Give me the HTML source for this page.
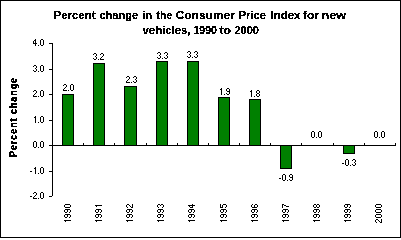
<!DOCTYPE html>
<html><head><meta charset="utf-8"><style>
html,body{margin:0;padding:0;background:#fff;}
svg{display:block;}
.ti{filter:url(#th);font-family:"Liberation Sans",sans-serif;font-size:11px;font-weight:bold;fill:#000;}
</style></head><body>
<svg width="401" height="238" viewBox="0 0 401 238" shape-rendering="crispEdges">
<defs><filter id="th" x="-0.1" y="-0.5" width="1.2" height="2" color-interpolation-filters="sRGB"><feComponentTransfer><feFuncA type="discrete" tableValues="0 1 1 1"/></feComponentTransfer></filter><filter id="th2" x="-0.1" y="-0.5" width="1.2" height="2"><feComponentTransfer><feFuncA type="discrete" tableValues="0 1 1"/></feComponentTransfer></filter></defs>
<rect x="0.5" y="0.5" width="400" height="237" fill="#fff" stroke="#000"/>
<rect x="52" y="43" width="1" height="153" fill="#000"/>
<rect x="49" y="196" width="3" height="1" fill="#000"/>
<rect x="49" y="171" width="4" height="1" fill="#000"/>
<rect x="49" y="145" width="4" height="1" fill="#000"/>
<rect x="49" y="120" width="4" height="1" fill="#000"/>
<rect x="49" y="94" width="4" height="1" fill="#000"/>
<rect x="49" y="69" width="4" height="1" fill="#000"/>
<rect x="49" y="43" width="4" height="1" fill="#000"/>
<rect x="62.5" y="94.5" width="11" height="51" fill="#008000" stroke="#000"/>
<rect x="93.5" y="63.5" width="11" height="82" fill="#008000" stroke="#000"/>
<rect x="124.5" y="86.5" width="12" height="59" fill="#008000" stroke="#000"/>
<rect x="156.5" y="61.5" width="11" height="84" fill="#008000" stroke="#000"/>
<rect x="187.5" y="61.5" width="11" height="84" fill="#008000" stroke="#000"/>
<rect x="218.5" y="97.5" width="11" height="48" fill="#008000" stroke="#000"/>
<rect x="249.5" y="99.5" width="11" height="46" fill="#008000" stroke="#000"/>
<rect x="280.5" y="145.5" width="11" height="23" fill="#008000" stroke="#000"/>
<rect x="343.5" y="145.5" width="11" height="8" fill="#008000" stroke="#000"/>
<rect x="52" y="145" width="344" height="1" fill="#000"/>
<rect x="52" y="143" width="1" height="2" fill="#000"/>
<rect x="83" y="143" width="1" height="2" fill="#000"/>
<rect x="114" y="143" width="1" height="2" fill="#000"/>
<rect x="146" y="143" width="1" height="2" fill="#000"/>
<rect x="177" y="143" width="1" height="2" fill="#000"/>
<rect x="208" y="143" width="1" height="2" fill="#000"/>
<rect x="239" y="143" width="1" height="2" fill="#000"/>
<rect x="270" y="143" width="1" height="2" fill="#000"/>
<rect x="301" y="143" width="1" height="2" fill="#000"/>
<rect x="333" y="143" width="1" height="2" fill="#000"/>
<rect x="364" y="143" width="1" height="2" fill="#000"/>
<rect x="395" y="143" width="1" height="2" fill="#000"/>
<path fill="#000" d="M30 196h1v1h-1zM31 196h1v1h-1zM34 192h1v1h-1zM35 192h1v1h-1zM33 193h1v1h-1zM36 193h1v1h-1zM36 194h1v1h-1zM35 195h1v1h-1zM34 196h1v1h-1zM33 197h1v1h-1zM33 198h1v1h-1zM34 198h1v1h-1zM35 198h1v1h-1zM36 198h1v1h-1zM38 198h1v1h-1zM41 192h1v1h-1zM42 192h1v1h-1zM40 193h1v1h-1zM43 193h1v1h-1zM40 194h1v1h-1zM43 194h1v1h-1zM40 195h1v1h-1zM43 195h1v1h-1zM40 196h1v1h-1zM43 196h1v1h-1zM40 197h1v1h-1zM43 197h1v1h-1zM41 198h1v1h-1zM42 198h1v1h-1zM30 171h1v1h-1zM31 171h1v1h-1zM35 167h1v1h-1zM34 168h1v1h-1zM35 168h1v1h-1zM35 169h1v1h-1zM35 170h1v1h-1zM35 171h1v1h-1zM35 172h1v1h-1zM35 173h1v1h-1zM38 173h1v1h-1zM41 167h1v1h-1zM42 167h1v1h-1zM40 168h1v1h-1zM43 168h1v1h-1zM40 169h1v1h-1zM43 169h1v1h-1zM40 170h1v1h-1zM43 170h1v1h-1zM40 171h1v1h-1zM43 171h1v1h-1zM40 172h1v1h-1zM43 172h1v1h-1zM41 173h1v1h-1zM42 173h1v1h-1zM34 141h1v1h-1zM35 141h1v1h-1zM33 142h1v1h-1zM36 142h1v1h-1zM33 143h1v1h-1zM36 143h1v1h-1zM33 144h1v1h-1zM36 144h1v1h-1zM33 145h1v1h-1zM36 145h1v1h-1zM33 146h1v1h-1zM36 146h1v1h-1zM34 147h1v1h-1zM35 147h1v1h-1zM38 147h1v1h-1zM41 141h1v1h-1zM42 141h1v1h-1zM40 142h1v1h-1zM43 142h1v1h-1zM40 143h1v1h-1zM43 143h1v1h-1zM40 144h1v1h-1zM43 144h1v1h-1zM40 145h1v1h-1zM43 145h1v1h-1zM40 146h1v1h-1zM43 146h1v1h-1zM41 147h1v1h-1zM42 147h1v1h-1zM35 116h1v1h-1zM34 117h1v1h-1zM35 117h1v1h-1zM35 118h1v1h-1zM35 119h1v1h-1zM35 120h1v1h-1zM35 121h1v1h-1zM35 122h1v1h-1zM38 122h1v1h-1zM41 116h1v1h-1zM42 116h1v1h-1zM40 117h1v1h-1zM43 117h1v1h-1zM40 118h1v1h-1zM43 118h1v1h-1zM40 119h1v1h-1zM43 119h1v1h-1zM40 120h1v1h-1zM43 120h1v1h-1zM40 121h1v1h-1zM43 121h1v1h-1zM41 122h1v1h-1zM42 122h1v1h-1zM34 90h1v1h-1zM35 90h1v1h-1zM33 91h1v1h-1zM36 91h1v1h-1zM36 92h1v1h-1zM35 93h1v1h-1zM34 94h1v1h-1zM33 95h1v1h-1zM33 96h1v1h-1zM34 96h1v1h-1zM35 96h1v1h-1zM36 96h1v1h-1zM38 96h1v1h-1zM41 90h1v1h-1zM42 90h1v1h-1zM40 91h1v1h-1zM43 91h1v1h-1zM40 92h1v1h-1zM43 92h1v1h-1zM40 93h1v1h-1zM43 93h1v1h-1zM40 94h1v1h-1zM43 94h1v1h-1zM40 95h1v1h-1zM43 95h1v1h-1zM41 96h1v1h-1zM42 96h1v1h-1zM34 65h1v1h-1zM35 65h1v1h-1zM33 66h1v1h-1zM36 66h1v1h-1zM36 67h1v1h-1zM35 68h1v1h-1zM36 69h1v1h-1zM33 70h1v1h-1zM36 70h1v1h-1zM34 71h1v1h-1zM35 71h1v1h-1zM38 71h1v1h-1zM41 65h1v1h-1zM42 65h1v1h-1zM40 66h1v1h-1zM43 66h1v1h-1zM40 67h1v1h-1zM43 67h1v1h-1zM40 68h1v1h-1zM43 68h1v1h-1zM40 69h1v1h-1zM43 69h1v1h-1zM40 70h1v1h-1zM43 70h1v1h-1zM41 71h1v1h-1zM42 71h1v1h-1zM35 39h1v1h-1zM34 40h1v1h-1zM35 40h1v1h-1zM33 41h1v1h-1zM35 41h1v1h-1zM33 42h1v1h-1zM35 42h1v1h-1zM33 43h1v1h-1zM34 43h1v1h-1zM35 43h1v1h-1zM36 43h1v1h-1zM35 44h1v1h-1zM35 45h1v1h-1zM38 45h1v1h-1zM41 39h1v1h-1zM42 39h1v1h-1zM40 40h1v1h-1zM43 40h1v1h-1zM40 41h1v1h-1zM43 41h1v1h-1zM40 42h1v1h-1zM43 42h1v1h-1zM40 43h1v1h-1zM43 43h1v1h-1zM40 44h1v1h-1zM43 44h1v1h-1zM41 45h1v1h-1zM42 45h1v1h-1zM64 84h1v1h-1zM65 84h1v1h-1zM63 85h1v1h-1zM66 85h1v1h-1zM66 86h1v1h-1zM65 87h1v1h-1zM64 88h1v1h-1zM63 89h1v1h-1zM63 90h1v1h-1zM64 90h1v1h-1zM65 90h1v1h-1zM66 90h1v1h-1zM68 90h1v1h-1zM71 84h1v1h-1zM72 84h1v1h-1zM70 85h1v1h-1zM73 85h1v1h-1zM70 86h1v1h-1zM73 86h1v1h-1zM70 87h1v1h-1zM73 87h1v1h-1zM70 88h1v1h-1zM73 88h1v1h-1zM70 89h1v1h-1zM73 89h1v1h-1zM71 90h1v1h-1zM72 90h1v1h-1zM64 220h1v1h-1zM65 221h1v1h-1zM65 220h1v1h-1zM66 220h1v1h-1zM67 220h1v1h-1zM68 220h1v1h-1zM69 220h1v1h-1zM70 220h1v1h-1zM64 216h1v1h-1zM64 215h1v1h-1zM65 217h1v1h-1zM65 214h1v1h-1zM66 217h1v1h-1zM66 214h1v1h-1zM67 216h1v1h-1zM67 215h1v1h-1zM67 214h1v1h-1zM68 214h1v1h-1zM69 217h1v1h-1zM69 214h1v1h-1zM70 216h1v1h-1zM70 215h1v1h-1zM64 211h1v1h-1zM64 210h1v1h-1zM65 212h1v1h-1zM65 209h1v1h-1zM66 212h1v1h-1zM66 209h1v1h-1zM67 211h1v1h-1zM67 210h1v1h-1zM67 209h1v1h-1zM68 209h1v1h-1zM69 212h1v1h-1zM69 209h1v1h-1zM70 211h1v1h-1zM70 210h1v1h-1zM64 206h1v1h-1zM64 205h1v1h-1zM65 207h1v1h-1zM65 204h1v1h-1zM66 207h1v1h-1zM66 204h1v1h-1zM67 207h1v1h-1zM67 204h1v1h-1zM68 207h1v1h-1zM68 204h1v1h-1zM69 207h1v1h-1zM69 204h1v1h-1zM70 206h1v1h-1zM70 205h1v1h-1zM94 53h1v1h-1zM95 53h1v1h-1zM93 54h1v1h-1zM96 54h1v1h-1zM96 55h1v1h-1zM95 56h1v1h-1zM96 57h1v1h-1zM93 58h1v1h-1zM96 58h1v1h-1zM94 59h1v1h-1zM95 59h1v1h-1zM98 59h1v1h-1zM101 53h1v1h-1zM102 53h1v1h-1zM100 54h1v1h-1zM103 54h1v1h-1zM103 55h1v1h-1zM102 56h1v1h-1zM101 57h1v1h-1zM100 58h1v1h-1zM100 59h1v1h-1zM101 59h1v1h-1zM102 59h1v1h-1zM103 59h1v1h-1zM95 220h1v1h-1zM96 221h1v1h-1zM96 220h1v1h-1zM97 220h1v1h-1zM98 220h1v1h-1zM99 220h1v1h-1zM100 220h1v1h-1zM101 220h1v1h-1zM95 216h1v1h-1zM95 215h1v1h-1zM96 217h1v1h-1zM96 214h1v1h-1zM97 217h1v1h-1zM97 214h1v1h-1zM98 216h1v1h-1zM98 215h1v1h-1zM98 214h1v1h-1zM99 214h1v1h-1zM100 217h1v1h-1zM100 214h1v1h-1zM101 216h1v1h-1zM101 215h1v1h-1zM95 211h1v1h-1zM95 210h1v1h-1zM96 212h1v1h-1zM96 209h1v1h-1zM97 212h1v1h-1zM97 209h1v1h-1zM98 211h1v1h-1zM98 210h1v1h-1zM98 209h1v1h-1zM99 209h1v1h-1zM100 212h1v1h-1zM100 209h1v1h-1zM101 211h1v1h-1zM101 210h1v1h-1zM95 205h1v1h-1zM96 206h1v1h-1zM96 205h1v1h-1zM97 205h1v1h-1zM98 205h1v1h-1zM99 205h1v1h-1zM100 205h1v1h-1zM101 205h1v1h-1zM127 76h1v1h-1zM128 76h1v1h-1zM126 77h1v1h-1zM129 77h1v1h-1zM129 78h1v1h-1zM128 79h1v1h-1zM127 80h1v1h-1zM126 81h1v1h-1zM126 82h1v1h-1zM127 82h1v1h-1zM128 82h1v1h-1zM129 82h1v1h-1zM131 82h1v1h-1zM134 76h1v1h-1zM135 76h1v1h-1zM133 77h1v1h-1zM136 77h1v1h-1zM136 78h1v1h-1zM135 79h1v1h-1zM136 80h1v1h-1zM133 81h1v1h-1zM136 81h1v1h-1zM134 82h1v1h-1zM135 82h1v1h-1zM126 220h1v1h-1zM127 221h1v1h-1zM127 220h1v1h-1zM128 220h1v1h-1zM129 220h1v1h-1zM130 220h1v1h-1zM131 220h1v1h-1zM132 220h1v1h-1zM126 216h1v1h-1zM126 215h1v1h-1zM127 217h1v1h-1zM127 214h1v1h-1zM128 217h1v1h-1zM128 214h1v1h-1zM129 216h1v1h-1zM129 215h1v1h-1zM129 214h1v1h-1zM130 214h1v1h-1zM131 217h1v1h-1zM131 214h1v1h-1zM132 216h1v1h-1zM132 215h1v1h-1zM126 211h1v1h-1zM126 210h1v1h-1zM127 212h1v1h-1zM127 209h1v1h-1zM128 212h1v1h-1zM128 209h1v1h-1zM129 211h1v1h-1zM129 210h1v1h-1zM129 209h1v1h-1zM130 209h1v1h-1zM131 212h1v1h-1zM131 209h1v1h-1zM132 211h1v1h-1zM132 210h1v1h-1zM126 206h1v1h-1zM126 205h1v1h-1zM127 207h1v1h-1zM127 204h1v1h-1zM128 204h1v1h-1zM129 205h1v1h-1zM130 206h1v1h-1zM131 207h1v1h-1zM132 207h1v1h-1zM132 206h1v1h-1zM132 205h1v1h-1zM132 204h1v1h-1zM158 52h1v1h-1zM159 52h1v1h-1zM157 53h1v1h-1zM160 53h1v1h-1zM160 54h1v1h-1zM159 55h1v1h-1zM160 56h1v1h-1zM157 57h1v1h-1zM160 57h1v1h-1zM158 58h1v1h-1zM159 58h1v1h-1zM162 58h1v1h-1zM165 52h1v1h-1zM166 52h1v1h-1zM164 53h1v1h-1zM167 53h1v1h-1zM167 54h1v1h-1zM166 55h1v1h-1zM167 56h1v1h-1zM164 57h1v1h-1zM167 57h1v1h-1zM165 58h1v1h-1zM166 58h1v1h-1zM157 220h1v1h-1zM158 221h1v1h-1zM158 220h1v1h-1zM159 220h1v1h-1zM160 220h1v1h-1zM161 220h1v1h-1zM162 220h1v1h-1zM163 220h1v1h-1zM157 216h1v1h-1zM157 215h1v1h-1zM158 217h1v1h-1zM158 214h1v1h-1zM159 217h1v1h-1zM159 214h1v1h-1zM160 216h1v1h-1zM160 215h1v1h-1zM160 214h1v1h-1zM161 214h1v1h-1zM162 217h1v1h-1zM162 214h1v1h-1zM163 216h1v1h-1zM163 215h1v1h-1zM157 211h1v1h-1zM157 210h1v1h-1zM158 212h1v1h-1zM158 209h1v1h-1zM159 212h1v1h-1zM159 209h1v1h-1zM160 211h1v1h-1zM160 210h1v1h-1zM160 209h1v1h-1zM161 209h1v1h-1zM162 212h1v1h-1zM162 209h1v1h-1zM163 211h1v1h-1zM163 210h1v1h-1zM157 206h1v1h-1zM157 205h1v1h-1zM158 207h1v1h-1zM158 204h1v1h-1zM159 204h1v1h-1zM160 205h1v1h-1zM161 204h1v1h-1zM162 207h1v1h-1zM162 204h1v1h-1zM163 206h1v1h-1zM163 205h1v1h-1zM188 51h1v1h-1zM189 51h1v1h-1zM187 52h1v1h-1zM190 52h1v1h-1zM190 53h1v1h-1zM189 54h1v1h-1zM190 55h1v1h-1zM187 56h1v1h-1zM190 56h1v1h-1zM188 57h1v1h-1zM189 57h1v1h-1zM192 57h1v1h-1zM195 51h1v1h-1zM196 51h1v1h-1zM194 52h1v1h-1zM197 52h1v1h-1zM197 53h1v1h-1zM196 54h1v1h-1zM197 55h1v1h-1zM194 56h1v1h-1zM197 56h1v1h-1zM195 57h1v1h-1zM196 57h1v1h-1zM188 220h1v1h-1zM189 221h1v1h-1zM189 220h1v1h-1zM190 220h1v1h-1zM191 220h1v1h-1zM192 220h1v1h-1zM193 220h1v1h-1zM194 220h1v1h-1zM188 216h1v1h-1zM188 215h1v1h-1zM189 217h1v1h-1zM189 214h1v1h-1zM190 217h1v1h-1zM190 214h1v1h-1zM191 216h1v1h-1zM191 215h1v1h-1zM191 214h1v1h-1zM192 214h1v1h-1zM193 217h1v1h-1zM193 214h1v1h-1zM194 216h1v1h-1zM194 215h1v1h-1zM188 211h1v1h-1zM188 210h1v1h-1zM189 212h1v1h-1zM189 209h1v1h-1zM190 212h1v1h-1zM190 209h1v1h-1zM191 211h1v1h-1zM191 210h1v1h-1zM191 209h1v1h-1zM192 209h1v1h-1zM193 212h1v1h-1zM193 209h1v1h-1zM194 211h1v1h-1zM194 210h1v1h-1zM188 205h1v1h-1zM189 206h1v1h-1zM189 205h1v1h-1zM190 207h1v1h-1zM190 205h1v1h-1zM191 207h1v1h-1zM191 205h1v1h-1zM192 207h1v1h-1zM192 206h1v1h-1zM192 205h1v1h-1zM192 204h1v1h-1zM193 205h1v1h-1zM194 205h1v1h-1zM221 88h1v1h-1zM220 89h1v1h-1zM221 89h1v1h-1zM221 90h1v1h-1zM221 91h1v1h-1zM221 92h1v1h-1zM221 93h1v1h-1zM221 94h1v1h-1zM224 94h1v1h-1zM227 88h1v1h-1zM228 88h1v1h-1zM226 89h1v1h-1zM229 89h1v1h-1zM226 90h1v1h-1zM229 90h1v1h-1zM227 91h1v1h-1zM228 91h1v1h-1zM229 91h1v1h-1zM229 92h1v1h-1zM226 93h1v1h-1zM229 93h1v1h-1zM227 94h1v1h-1zM228 94h1v1h-1zM220 220h1v1h-1zM221 221h1v1h-1zM221 220h1v1h-1zM222 220h1v1h-1zM223 220h1v1h-1zM224 220h1v1h-1zM225 220h1v1h-1zM226 220h1v1h-1zM220 216h1v1h-1zM220 215h1v1h-1zM221 217h1v1h-1zM221 214h1v1h-1zM222 217h1v1h-1zM222 214h1v1h-1zM223 216h1v1h-1zM223 215h1v1h-1zM223 214h1v1h-1zM224 214h1v1h-1zM225 217h1v1h-1zM225 214h1v1h-1zM226 216h1v1h-1zM226 215h1v1h-1zM220 211h1v1h-1zM220 210h1v1h-1zM221 212h1v1h-1zM221 209h1v1h-1zM222 212h1v1h-1zM222 209h1v1h-1zM223 211h1v1h-1zM223 210h1v1h-1zM223 209h1v1h-1zM224 209h1v1h-1zM225 212h1v1h-1zM225 209h1v1h-1zM226 211h1v1h-1zM226 210h1v1h-1zM220 207h1v1h-1zM220 206h1v1h-1zM220 205h1v1h-1zM220 204h1v1h-1zM221 207h1v1h-1zM222 207h1v1h-1zM222 206h1v1h-1zM222 205h1v1h-1zM223 204h1v1h-1zM224 204h1v1h-1zM225 207h1v1h-1zM225 204h1v1h-1zM226 206h1v1h-1zM226 205h1v1h-1zM251 90h1v1h-1zM250 91h1v1h-1zM251 91h1v1h-1zM251 92h1v1h-1zM251 93h1v1h-1zM251 94h1v1h-1zM251 95h1v1h-1zM251 96h1v1h-1zM254 96h1v1h-1zM257 90h1v1h-1zM258 90h1v1h-1zM256 91h1v1h-1zM259 91h1v1h-1zM256 92h1v1h-1zM259 92h1v1h-1zM257 93h1v1h-1zM258 93h1v1h-1zM256 94h1v1h-1zM259 94h1v1h-1zM256 95h1v1h-1zM259 95h1v1h-1zM257 96h1v1h-1zM258 96h1v1h-1zM251 220h1v1h-1zM252 221h1v1h-1zM252 220h1v1h-1zM253 220h1v1h-1zM254 220h1v1h-1zM255 220h1v1h-1zM256 220h1v1h-1zM257 220h1v1h-1zM251 216h1v1h-1zM251 215h1v1h-1zM252 217h1v1h-1zM252 214h1v1h-1zM253 217h1v1h-1zM253 214h1v1h-1zM254 216h1v1h-1zM254 215h1v1h-1zM254 214h1v1h-1zM255 214h1v1h-1zM256 217h1v1h-1zM256 214h1v1h-1zM257 216h1v1h-1zM257 215h1v1h-1zM251 211h1v1h-1zM251 210h1v1h-1zM252 212h1v1h-1zM252 209h1v1h-1zM253 212h1v1h-1zM253 209h1v1h-1zM254 211h1v1h-1zM254 210h1v1h-1zM254 209h1v1h-1zM255 209h1v1h-1zM256 212h1v1h-1zM256 209h1v1h-1zM257 211h1v1h-1zM257 210h1v1h-1zM251 206h1v1h-1zM251 205h1v1h-1zM252 207h1v1h-1zM252 204h1v1h-1zM253 207h1v1h-1zM254 207h1v1h-1zM254 206h1v1h-1zM254 205h1v1h-1zM255 207h1v1h-1zM255 204h1v1h-1zM256 207h1v1h-1zM256 204h1v1h-1zM257 206h1v1h-1zM257 205h1v1h-1zM279 178h1v1h-1zM280 178h1v1h-1zM283 174h1v1h-1zM284 174h1v1h-1zM282 175h1v1h-1zM285 175h1v1h-1zM282 176h1v1h-1zM285 176h1v1h-1zM282 177h1v1h-1zM285 177h1v1h-1zM282 178h1v1h-1zM285 178h1v1h-1zM282 179h1v1h-1zM285 179h1v1h-1zM283 180h1v1h-1zM284 180h1v1h-1zM287 180h1v1h-1zM290 174h1v1h-1zM291 174h1v1h-1zM289 175h1v1h-1zM292 175h1v1h-1zM289 176h1v1h-1zM292 176h1v1h-1zM290 177h1v1h-1zM291 177h1v1h-1zM292 177h1v1h-1zM292 178h1v1h-1zM289 179h1v1h-1zM292 179h1v1h-1zM290 180h1v1h-1zM291 180h1v1h-1zM282 220h1v1h-1zM283 221h1v1h-1zM283 220h1v1h-1zM284 220h1v1h-1zM285 220h1v1h-1zM286 220h1v1h-1zM287 220h1v1h-1zM288 220h1v1h-1zM282 216h1v1h-1zM282 215h1v1h-1zM283 217h1v1h-1zM283 214h1v1h-1zM284 217h1v1h-1zM284 214h1v1h-1zM285 216h1v1h-1zM285 215h1v1h-1zM285 214h1v1h-1zM286 214h1v1h-1zM287 217h1v1h-1zM287 214h1v1h-1zM288 216h1v1h-1zM288 215h1v1h-1zM282 211h1v1h-1zM282 210h1v1h-1zM283 212h1v1h-1zM283 209h1v1h-1zM284 212h1v1h-1zM284 209h1v1h-1zM285 211h1v1h-1zM285 210h1v1h-1zM285 209h1v1h-1zM286 209h1v1h-1zM287 212h1v1h-1zM287 209h1v1h-1zM288 211h1v1h-1zM288 210h1v1h-1zM282 207h1v1h-1zM282 206h1v1h-1zM282 205h1v1h-1zM282 204h1v1h-1zM283 204h1v1h-1zM284 205h1v1h-1zM285 205h1v1h-1zM286 206h1v1h-1zM287 206h1v1h-1zM288 206h1v1h-1zM312 131h1v1h-1zM313 131h1v1h-1zM311 132h1v1h-1zM314 132h1v1h-1zM311 133h1v1h-1zM314 133h1v1h-1zM311 134h1v1h-1zM314 134h1v1h-1zM311 135h1v1h-1zM314 135h1v1h-1zM311 136h1v1h-1zM314 136h1v1h-1zM312 137h1v1h-1zM313 137h1v1h-1zM316 137h1v1h-1zM319 131h1v1h-1zM320 131h1v1h-1zM318 132h1v1h-1zM321 132h1v1h-1zM318 133h1v1h-1zM321 133h1v1h-1zM318 134h1v1h-1zM321 134h1v1h-1zM318 135h1v1h-1zM321 135h1v1h-1zM318 136h1v1h-1zM321 136h1v1h-1zM319 137h1v1h-1zM320 137h1v1h-1zM313 220h1v1h-1zM314 221h1v1h-1zM314 220h1v1h-1zM315 220h1v1h-1zM316 220h1v1h-1zM317 220h1v1h-1zM318 220h1v1h-1zM319 220h1v1h-1zM313 216h1v1h-1zM313 215h1v1h-1zM314 217h1v1h-1zM314 214h1v1h-1zM315 217h1v1h-1zM315 214h1v1h-1zM316 216h1v1h-1zM316 215h1v1h-1zM316 214h1v1h-1zM317 214h1v1h-1zM318 217h1v1h-1zM318 214h1v1h-1zM319 216h1v1h-1zM319 215h1v1h-1zM313 211h1v1h-1zM313 210h1v1h-1zM314 212h1v1h-1zM314 209h1v1h-1zM315 212h1v1h-1zM315 209h1v1h-1zM316 211h1v1h-1zM316 210h1v1h-1zM316 209h1v1h-1zM317 209h1v1h-1zM318 212h1v1h-1zM318 209h1v1h-1zM319 211h1v1h-1zM319 210h1v1h-1zM313 206h1v1h-1zM313 205h1v1h-1zM314 207h1v1h-1zM314 204h1v1h-1zM315 207h1v1h-1zM315 204h1v1h-1zM316 206h1v1h-1zM316 205h1v1h-1zM317 207h1v1h-1zM317 204h1v1h-1zM318 207h1v1h-1zM318 204h1v1h-1zM319 206h1v1h-1zM319 205h1v1h-1zM342 163h1v1h-1zM343 163h1v1h-1zM346 159h1v1h-1zM347 159h1v1h-1zM345 160h1v1h-1zM348 160h1v1h-1zM345 161h1v1h-1zM348 161h1v1h-1zM345 162h1v1h-1zM348 162h1v1h-1zM345 163h1v1h-1zM348 163h1v1h-1zM345 164h1v1h-1zM348 164h1v1h-1zM346 165h1v1h-1zM347 165h1v1h-1zM350 165h1v1h-1zM353 159h1v1h-1zM354 159h1v1h-1zM352 160h1v1h-1zM355 160h1v1h-1zM355 161h1v1h-1zM354 162h1v1h-1zM355 163h1v1h-1zM352 164h1v1h-1zM355 164h1v1h-1zM353 165h1v1h-1zM354 165h1v1h-1zM344 220h1v1h-1zM345 221h1v1h-1zM345 220h1v1h-1zM346 220h1v1h-1zM347 220h1v1h-1zM348 220h1v1h-1zM349 220h1v1h-1zM350 220h1v1h-1zM344 216h1v1h-1zM344 215h1v1h-1zM345 217h1v1h-1zM345 214h1v1h-1zM346 217h1v1h-1zM346 214h1v1h-1zM347 216h1v1h-1zM347 215h1v1h-1zM347 214h1v1h-1zM348 214h1v1h-1zM349 217h1v1h-1zM349 214h1v1h-1zM350 216h1v1h-1zM350 215h1v1h-1zM344 211h1v1h-1zM344 210h1v1h-1zM345 212h1v1h-1zM345 209h1v1h-1zM346 212h1v1h-1zM346 209h1v1h-1zM347 211h1v1h-1zM347 210h1v1h-1zM347 209h1v1h-1zM348 209h1v1h-1zM349 212h1v1h-1zM349 209h1v1h-1zM350 211h1v1h-1zM350 210h1v1h-1zM344 206h1v1h-1zM344 205h1v1h-1zM345 207h1v1h-1zM345 204h1v1h-1zM346 207h1v1h-1zM346 204h1v1h-1zM347 206h1v1h-1zM347 205h1v1h-1zM347 204h1v1h-1zM348 204h1v1h-1zM349 207h1v1h-1zM349 204h1v1h-1zM350 206h1v1h-1zM350 205h1v1h-1zM375 131h1v1h-1zM376 131h1v1h-1zM374 132h1v1h-1zM377 132h1v1h-1zM374 133h1v1h-1zM377 133h1v1h-1zM374 134h1v1h-1zM377 134h1v1h-1zM374 135h1v1h-1zM377 135h1v1h-1zM374 136h1v1h-1zM377 136h1v1h-1zM375 137h1v1h-1zM376 137h1v1h-1zM379 137h1v1h-1zM382 131h1v1h-1zM383 131h1v1h-1zM381 132h1v1h-1zM384 132h1v1h-1zM381 133h1v1h-1zM384 133h1v1h-1zM381 134h1v1h-1zM384 134h1v1h-1zM381 135h1v1h-1zM384 135h1v1h-1zM381 136h1v1h-1zM384 136h1v1h-1zM382 137h1v1h-1zM383 137h1v1h-1zM375 221h1v1h-1zM375 220h1v1h-1zM376 222h1v1h-1zM376 219h1v1h-1zM377 219h1v1h-1zM378 220h1v1h-1zM379 221h1v1h-1zM380 222h1v1h-1zM381 222h1v1h-1zM381 221h1v1h-1zM381 220h1v1h-1zM381 219h1v1h-1zM375 216h1v1h-1zM375 215h1v1h-1zM376 217h1v1h-1zM376 214h1v1h-1zM377 217h1v1h-1zM377 214h1v1h-1zM378 217h1v1h-1zM378 214h1v1h-1zM379 217h1v1h-1zM379 214h1v1h-1zM380 217h1v1h-1zM380 214h1v1h-1zM381 216h1v1h-1zM381 215h1v1h-1zM375 211h1v1h-1zM375 210h1v1h-1zM376 212h1v1h-1zM376 209h1v1h-1zM377 212h1v1h-1zM377 209h1v1h-1zM378 212h1v1h-1zM378 209h1v1h-1zM379 212h1v1h-1zM379 209h1v1h-1zM380 212h1v1h-1zM380 209h1v1h-1zM381 211h1v1h-1zM381 210h1v1h-1zM375 206h1v1h-1zM375 205h1v1h-1zM376 207h1v1h-1zM376 204h1v1h-1zM377 207h1v1h-1zM377 204h1v1h-1zM378 207h1v1h-1zM378 204h1v1h-1zM379 207h1v1h-1zM379 204h1v1h-1zM380 207h1v1h-1zM380 204h1v1h-1zM381 206h1v1h-1zM381 205h1v1h-1z"/>
<text x="53.5" y="19" textLength="42" lengthAdjust="spacingAndGlyphs" class="ti" style="filter:url(#th2)">Percent</text>
<text x="99.5" y="19" textLength="38.5" lengthAdjust="spacingAndGlyphs" class="ti" style="filter:url(#th2)">change</text>
<text x="142.5" y="19" textLength="9.5" lengthAdjust="spacingAndGlyphs" class="ti" style="filter:url(#th2)">in</text>
<text x="156.5" y="19" textLength="15.5" lengthAdjust="spacingAndGlyphs" class="ti" style="filter:url(#th2)">the</text>
<text x="175.5" y="19" textLength="59.5" lengthAdjust="spacingAndGlyphs" class="ti" style="filter:url(#th2)">Consumer</text>
<text x="238.5" y="19" textLength="27.5" lengthAdjust="spacingAndGlyphs" class="ti" style="filter:url(#th2)">Price</text>
<text x="270.5" y="19" textLength="30" lengthAdjust="spacingAndGlyphs" class="ti" style="filter:url(#th2)">Index</text>
<text x="303" y="19" textLength="16" lengthAdjust="spacingAndGlyphs" class="ti" style="filter:url(#th2)">for</text>
<text x="321.5" y="19" textLength="24.5" lengthAdjust="spacingAndGlyphs" class="ti" style="filter:url(#th2)">new</text>
<text x="142.5" y="34" textLength="48" lengthAdjust="spacingAndGlyphs" class="ti" style="filter:url(#th2)">vehicles,</text>
<text x="193.5" y="34" textLength="23.5" lengthAdjust="spacingAndGlyphs" class="ti" style="filter:url(#th2)">1990</text>
<text x="219.5" y="34" textLength="11.5" lengthAdjust="spacingAndGlyphs" class="ti" style="filter:url(#th2)">to</text>
<text x="234.5" y="34" textLength="24.5" lengthAdjust="spacingAndGlyphs" class="ti" style="filter:url(#th2)">2000</text>
<text transform="translate(17,117.5) rotate(-90) scale(0.88,1)" text-anchor="middle" textLength="89.8" lengthAdjust="spacing" class="ti" style="font-size:10px;filter:url(#th2)">Percent change</text>
</svg>
</body></html>
